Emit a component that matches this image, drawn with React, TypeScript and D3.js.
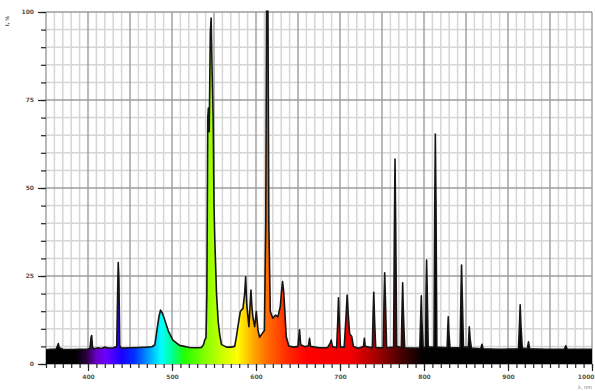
import React, { useEffect, useRef } from "react";
import * as d3 from "d3";

// wavelength (nm), relative intensity (%)
const spectrum: [number, number][] = [
  [350, 4.0], [355, 4.2], [362, 4.2], [363.5, 5.0], [364.6, 5.8], [365.8, 4.6],
  [370, 4.2], [380, 4.1], [390, 4.2], [400, 4.2], [402.5, 4.6], [403.6, 7.5],
  [404.4, 8.1], [405.3, 4.8], [407, 4.3], [412, 4.6], [416, 4.4], [420, 4.8],
  [425, 4.5], [430, 4.6], [434.2, 5.0], [435.4, 22], [436.0, 28.8], [436.8, 24],
  [437.8, 5.2], [440, 4.5], [450, 4.6], [460, 4.7], [470, 4.8], [476, 4.9],
  [479.5, 5.4], [482, 9.5], [484.5, 13.5], [486.3, 15.3], [488.5, 14.5],
  [491.4, 12.5], [495.4, 9.5], [501, 6.8], [509, 5.3], [521, 4.7], [530, 4.6],
  [535, 4.7], [537.5, 5.5], [539, 6.8], [540.5, 7.5], [541.5, 20], [542.6, 70],
  [543.3, 72.7], [544.3, 66], [545.6, 94], [546.6, 98.3], [547.6, 85], [549, 70],
  [550, 45], [551, 35], [553, 20], [555, 12], [557, 8], [559, 5.5], [565, 4.8],
  [570, 4.8], [574.6, 5.0], [576.5, 7.5], [578.5, 10.6], [581.3, 14.9],
  [584.5, 15.8], [586.5, 20], [587.7, 24.8], [589, 17], [590, 14.4], [591.6, 10.6],
  [593, 17], [594, 21], [595.2, 16], [596.3, 13.4], [598.4, 10.6], [600.4, 14.9],
  [602.3, 9.7], [604.3, 7.6], [607.5, 8.7], [610, 9.5], [611.6, 40], [612.6, 101],
  [614.2, 101], [615.3, 40], [617, 14.9], [620, 13], [623.3, 13.9], [626, 13.4],
  [628.9, 16.3], [630.5, 21], [631.6, 23.4], [632.8, 21], [634, 16.3], [636, 7.8],
  [639, 5.1], [645, 4.8], [650, 5.0], [651.8, 9.7], [653.2, 5.5], [658, 4.9],
  [662.5, 5.2], [663.7, 7.3], [665, 5.0], [675, 4.6], [685, 4.6], [688.5, 6.0],
  [689.5, 6.8], [691, 5.0], [696, 4.6], [697.3, 12], [698.2, 18.8], [699.2, 12],
  [700.5, 4.8], [705, 4.8], [707.3, 14], [708.5, 19.6], [709.8, 14], [711.5, 8.5],
  [714, 7.8], [716, 5.0], [722, 4.5], [728, 5.0], [729, 7.3], [730, 5.0],
  [738.5, 4.6], [739.4, 14], [740.2, 20.4], [741.1, 13], [742.5, 4.6],
  [751.5, 4.6], [752.4, 18], [753.2, 25.9], [754.1, 18], [755.5, 4.6],
  [763.8, 4.8], [764.8, 40], [765.5, 58.2], [766.3, 40], [767.5, 5.0],
  [773, 4.7], [773.9, 16], [774.6, 23.1], [775.4, 15], [777, 4.6],
  [795, 4.5], [796, 13], [796.8, 19.4], [797.6, 12], [799, 4.6],
  [802, 4.8], [802.4, 20], [803.1, 29.5], [803.9, 20], [805, 4.8],
  [811.9, 4.8], [812.8, 45], [813.5, 65.3], [814.3, 45], [815.3, 4.8],
  [827.5, 4.6], [828.3, 10], [828.9, 13.4], [829.6, 9], [831, 4.6],
  [843, 4.6], [844, 20], [844.7, 28.1], [845.5, 20], [847, 4.8],
  [852.8, 4.8], [853.9, 10.6], [855, 7], [856.5, 4.5], [867.5, 4.3],
  [869, 5.6], [870.5, 4.3], [890, 4.2], [912.5, 4.3], [913.8, 12],
  [914.5, 16.8], [915.4, 11], [917, 4.5], [923, 4.3], [924.4, 6.3],
  [925.8, 4.3], [945, 4.2], [967, 4.2], [968.8, 5.2], [970.5, 4.2],
  [985, 4.2], [1000, 4.2],
];

// wavelength -> colour of the fill under the curve
const spectrumStops: [number, string][] = [
  [350, "#000000"], [385, "#000000"], [398, "#2a0040"], [410, "#6a00c8"],
  [422, "#6a00ff"], [440, "#1a00ff"], [455, "#0030ff"], [470, "#0090ff"],
  [487, "#00ffff"], [500, "#00ff99"], [515, "#22ff00"], [540, "#88ff00"],
  [560, "#ccff00"], [578, "#ffff00"], [595, "#ffb000"], [612, "#ff7000"],
  [635, "#ff3000"], [660, "#ff0000"], [715, "#f00000"], [745, "#a00000"],
  [775, "#400000"], [800, "#000000"], [1000, "#000000"],
];

const xMajorTicks = [400, 500, 600, 700, 800, 900, 1000];
const yMajorTicks = [0, 25, 50, 75, 100];

const SpectrumChart = () => {
  const svgRef = useRef<SVGSVGElement | null>(null);
  const width = 595;
  const height = 391;

  useEffect(() => {
    const svg = d3.select(svgRef.current).attr("width", width).attr("height", height);
    svg.selectAll("*").remove();

    const x = d3.scaleLinear().domain([350, 1000]).range([46, 592]);
    const y = d3.scaleLinear().domain([0, 100]).range([364, 12]);

    const defs = svg.append("defs");
    const grad = defs
      .append("linearGradient")
      .attr("id", "specGrad")
      .attr("gradientUnits", "userSpaceOnUse")
      .attr("x1", x(350))
      .attr("x2", x(1000))
      .attr("y1", 0)
      .attr("y2", 0);
    grad
      .selectAll("stop")
      .data(spectrumStops)
      .enter()
      .append("stop")
      .attr("offset", (d) => (d[0] - 350) / 650)
      .attr("stop-color", (d) => d[1]);

    defs
      .append("clipPath")
      .attr("id", "plotClip")
      .append("rect")
      .attr("x", x(350))
      .attr("y", y(100) - 1.5)
      .attr("width", x(1000) - x(350) + 1)
      .attr("height", y(0) - y(100) + 1.5);

    // grid
    const grid = svg.append("g");
    const vMinor = d3.range(350, 1001, 10).filter((d) => d % 50 !== 0);
    const vMajor = d3.range(350, 1001, 50);
    const hMinor = d3.range(0, 101, 5).filter((d) => d % 25 !== 0);

    grid
      .selectAll(".vmin")
      .data(vMinor)
      .enter()
      .append("line")
      .attr("x1", (d) => x(d))
      .attr("x2", (d) => x(d))
      .attr("y1", y(100))
      .attr("y2", y(0))
      .attr("stroke", "#d6d6d6")
      .attr("stroke-width", 1.5);
    grid
      .selectAll(".hmin")
      .data(hMinor)
      .enter()
      .append("line")
      .attr("x1", x(350))
      .attr("x2", x(1000))
      .attr("y1", (d) => y(d))
      .attr("y2", (d) => y(d))
      .attr("stroke", "#d6d6d6")
      .attr("stroke-width", 1.5);
    grid
      .selectAll(".vmaj")
      .data(vMajor)
      .enter()
      .append("line")
      .attr("x1", (d) => x(d))
      .attr("x2", (d) => x(d))
      .attr("y1", y(100))
      .attr("y2", y(0))
      .attr("stroke", "#9c9c9c")
      .attr("stroke-width", 1.4);
    grid
      .selectAll(".hmaj")
      .data(yMajorTicks)
      .enter()
      .append("line")
      .attr("x1", x(350))
      .attr("x2", x(1000))
      .attr("y1", (d) => y(d))
      .attr("y2", (d) => y(d))
      .attr("stroke", "#9c9c9c")
      .attr("stroke-width", 1.4);

    // spectrum
    const plot = svg.append("g").attr("clip-path", "url(#plotClip)");
    const area = d3
      .area<[number, number]>()
      .x((d) => x(d[0]))
      .y0(y(0))
      .y1((d) => y(d[1]));
    const line = d3
      .line<[number, number]>()
      .x((d) => x(d[0]))
      .y((d) => y(d[1]));

    plot.append("path").datum(spectrum).attr("d", area).attr("fill", "url(#specGrad)");
    plot
      .append("path")
      .datum(spectrum)
      .attr("d", line)
      .attr("fill", "none")
      .attr("stroke", "#151515")
      .attr("stroke-width", 1.6)
      .attr("stroke-linejoin", "round");

    // axes
    const styleAxis = (g: d3.Selection<SVGGElement, unknown, null, undefined>) => {
      g.select(".domain").remove();
      g.selectAll("line").attr("stroke", "#222").attr("stroke-width", 1.2);
      g.selectAll("text")
        .attr("fill", "#555")
        .style("font-size", "6px")
        .style("font-weight", "bold")
        .style("font-family", "DejaVu Sans, sans-serif");
    };

    svg
      .append("g")
      .attr("transform", `translate(${x(350)},0)`)
      .call(
        d3
          .axisLeft(y)
          .tickValues(d3.range(0, 101, 5))
          .tickSize(5)
          .tickFormat(() => "")
      )
      .call(styleAxis);
    svg
      .append("g")
      .attr("transform", `translate(${x(350)},0)`)
      .call(
        d3
          .axisLeft(y)
          .tickValues(yMajorTicks)
          .tickSize(8)
          .tickPadding(4)
          .tickFormat(d3.format("d"))
      )
      .call(styleAxis);

    svg
      .append("g")
      .attr("transform", `translate(0,${y(0)})`)
      .call(
        d3
          .axisBottom(x)
          .tickValues(d3.range(350, 1001, 10))
          .tickSize(4)
          .tickFormat(() => "")
      )
      .call(styleAxis);
    const xAxis = svg
      .append("g")
      .attr("transform", `translate(0,${y(0)})`)
      .call(
        d3
          .axisBottom(x)
          .tickValues(xMajorTicks)
          .tickSize(7)
          .tickPadding(4)
          .tickFormat(d3.format("d"))
      )
      .call(styleAxis);
    // keep the last label inside the picture
    xAxis
      .selectAll<SVGTextElement, number>("text")
      .filter((d) => d === 1000)
      .attr("text-anchor", "end")
      .attr("x", 2);

    // axis titles
    svg
      .append("text")
      .attr("transform", "translate(9,21) rotate(-90)")
      .attr("text-anchor", "middle")
      .attr("fill", "#555")
      .style("font-size", "5px")
      .style("font-weight", "bold")
      .style("font-family", "DejaVu Sans, sans-serif")
      .text("I, %");
    svg
      .append("text")
      .attr("x", 592)
      .attr("y", 389)
      .attr("text-anchor", "end")
      .attr("fill", "#777")
      .style("font-size", "5px")
      .style("font-family", "DejaVu Sans, sans-serif")
      .text("λ, nm");
  }, []);

  return (
    <svg
      ref={svgRef}
      style={{ position: "absolute", left: 0, top: 0, background: "#fff" }}
    ></svg>
  );
};

export default function App() {
  return <SpectrumChart />;
}
